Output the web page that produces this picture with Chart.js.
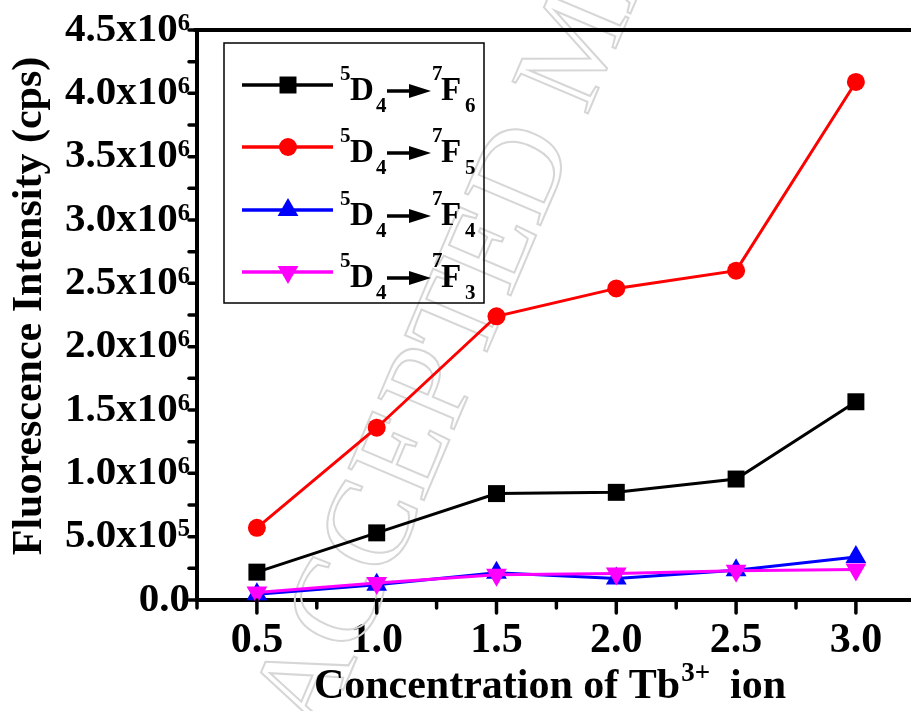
<!DOCTYPE html>
<html><head><meta charset="utf-8">
<script src="https://cdn.jsdelivr.net/npm/chart.js@4.4.0/dist/chart.umd.min.js"></script>
<style>html,body{margin:0;padding:0;overflow:hidden;background:#fff}canvas{display:block}</style>
</head><body><canvas id="c" width="911" height="711" style="width:911px;height:711px"></canvas>
<script>
const FF = '"Liberation Serif","Times New Roman",serif';
const concentrations = [0.5, 1.0, 1.5, 2.0, 2.5, 3.0];
const f6 = [0.22e6, 0.53e6, 0.84e6, 0.85e6, 0.955e6, 1.565e6];
const f5 = [0.57e6, 1.36e6, 2.24e6, 2.46e6, 2.60e6, 4.09e6];
const f4 = [0.045e6, 0.12e6, 0.215e6, 0.17e6, 0.235e6, 0.34e6];
const f3 = [0.06e6, 0.135e6, 0.20e6, 0.21e6, 0.23e6, 0.24e6];
const yTickLabels = ['0.0','5.0x10⁵','1.0x10⁶','1.5x10⁶','2.0x10⁶','2.5x10⁶','3.0x10⁶','3.5x10⁶','4.0x10⁶','4.5x10⁶'];
const xTickLabels = ['0.5','1.0','1.5','2.0','2.5','3.0'];
const seriesLower = ['6','5','4','3'];
const seriesColors = ['#000000','#ff0000','#0000ff','#ff00ff'];
const seriesStyles = ['rect','circle','triangle','triangle'];
const seriesRot = [0,0,0,180];
const seriesRadius = [12,9,12,12];
const seriesData = [f6,f5,f4,f3];

function pts(arr){ return concentrations.map((c,i)=>({x:c, y:arr[i]})); }

const datasets = seriesData.map((d,i)=>({
  label: '5D4-7F'+seriesLower[i],
  data: pts(d),
  borderColor: seriesColors[i],
  backgroundColor: seriesColors[i],
  borderWidth: 3,
  pointStyle: seriesStyles[i],
  rotation: seriesRot[i],
  pointRadius: seriesRadius[i],
  pointBorderWidth: 0,
  pointBackgroundColor: seriesColors[i],
  tension: 0,
  clip: false,
  order: 3 - i
}));

const deco = {
  id: 'deco',
  beforeDatasetsDraw(chart){
    const ctx = chart.ctx;
    ctx.save();
    ctx.translate(322, 740);
    ctx.rotate(-67*Math.PI/180);
    ctx.font = '125px ' + FF;
    ctx.strokeStyle = '#d6d6d6';
    ctx.lineWidth = 2;
    ctx.textBaseline = 'alphabetic';
    ctx.strokeText('ACCEPTED MANUSCRIPT', 0, 0);
    ctx.restore();
  },
  afterDraw(chart){
    const ctx = chart.ctx, ca = chart.chartArea;
    const xs = chart.scales.x, ys = chart.scales.y;
    ctx.save();
    ctx.strokeStyle = '#000';
    ctx.lineCap = 'round';
    ctx.lineWidth = 4;
    ctx.beginPath(); ctx.moveTo(ca.left-2, ca.top); ctx.lineTo(ca.right+10, ca.top); ctx.stroke();
    ctx.lineWidth = 3.5;
    xs.ticks.forEach(t=>{
      const p = xs.getPixelForValue(t.value);
      const major = Math.abs(t.value*2 - Math.round(t.value*2)) < 1e-6;
      ctx.beginPath(); ctx.moveTo(p, ca.bottom); ctx.lineTo(p, ca.bottom + (major?13:8)); ctx.stroke();
    });
    ys.ticks.forEach(t=>{
      const p = ys.getPixelForValue(t.value);
      ctx.beginPath(); ctx.moveTo(ca.left, p); ctx.lineTo(ca.left - 8, p); ctx.stroke();
    });
    ctx.fillStyle = '#000';
    ctx.textBaseline = 'alphabetic';
    const big = 'bold 42px ' + FF, small = 'bold 27px ' + FF;
    ctx.font = big; const w1 = ctx.measureText('Concentration of Tb').width;
    ctx.font = small; const w2 = ctx.measureText('3+').width;
    ctx.font = big; const w3 = ctx.measureText('  ion').width;
    let x0 = 550 - (w1+w2+w3)/2;
    ctx.font = big; ctx.fillText('Concentration of Tb', x0, 698);
    ctx.font = small; ctx.fillText('3+', x0 + w1 + 1, 681);
    ctx.font = big; ctx.fillText('  ion', x0 + w1 + w2, 698);
    ctx.save();
    ctx.translate(30, 306);
    ctx.rotate(-Math.PI/2);
    ctx.font = 'bold 42px ' + FF;
    ctx.textAlign = 'center'; ctx.textBaseline = 'middle';
    ctx.fillText('Fluorescence Intensity (cps)', 0, 0);
    ctx.restore();
    // legend
    ctx.lineWidth = 1.5; ctx.lineCap = 'butt';
    ctx.strokeRect(224, 43, 260, 260);
    const rows = [85, 147, 210, 272];
    rows.forEach((yc, i)=>{
      ctx.strokeStyle = seriesColors[i]; ctx.lineWidth = 3.5;
      ctx.beginPath(); ctx.moveTo(242, yc); ctx.lineTo(333, yc); ctx.stroke();
      ctx.fillStyle = seriesColors[i];
      Chart.helpers.drawPoint(ctx, {pointStyle: seriesStyles[i], radius: seriesRadius[i], rotation: seriesRot[i], borderWidth: 0}, 288, yc);
      ctx.fillStyle = '#000'; ctx.strokeStyle = '#000';
      ctx.textAlign = 'left'; ctx.textBaseline = 'alphabetic';
      ctx.font = 'bold 21px ' + FF; ctx.fillText('5', 340, yc - 5);
      ctx.font = 'bold 33px ' + FF; ctx.fillText('D', 350, yc + 15);
      ctx.font = 'bold 21px ' + FF; ctx.fillText('4', 376, yc + 27);
      ctx.lineWidth = 3.5;
      ctx.beginPath(); ctx.moveTo(387, yc + 6); ctx.lineTo(412, yc + 6); ctx.stroke();
      ctx.beginPath(); ctx.moveTo(409, yc - 1); ctx.lineTo(431, yc + 6); ctx.lineTo(409, yc + 13); ctx.closePath(); ctx.fill();
      ctx.font = 'bold 21px ' + FF; ctx.fillText('7', 432, yc - 5);
      ctx.font = 'bold 33px ' + FF; ctx.fillText('F', 441, yc + 15);
      ctx.font = 'bold 21px ' + FF; ctx.fillText(seriesLower[i], 465, yc + 27);
    });
    ctx.restore();
  }
};

new Chart(document.getElementById('c'), {
  type: 'line',
  data: { datasets },
  options: {
    responsive: false, animation: false, devicePixelRatio: 1,
    layout: { autoPadding: false, padding: { top: 30, right: 0, left: 0, bottom: 0 } },
    plugins: { legend: { display: false }, tooltip: { enabled: false } },
    scales: {
      x: {
        type: 'linear', min: 0.25, max: 3.23,
        afterBuildTicks: s => { const t=[]; for (let k=1;k<=12;k++) t.push({value: k*0.25}); s.ticks = t; },
        afterFit: s => { s.height = 111; },
        ticks: { autoSkip: false, maxRotation: 0, padding: 4, color: '#000',
          font: { family: FF, size: 42, weight: 'bold' },
          callback: (v) => { const k = Math.round(v*2); return (Math.abs(v*2-k)<1e-6 && k>=1 && k<=6) ? xTickLabels[k-1] : ''; } },
        grid: { drawOnChartArea: false, tickLength: 12, tickColor: 'transparent' },
        border: { color: '#000', width: 4 }
      },
      y: {
        type: 'linear', min: 0, max: 4.5e6,
        afterBuildTicks: s => { const t=[]; for (let k=0;k<=18;k++) t.push({value: k*0.25e6}); s.ticks = t; },
        afterFit: s => { s.width = 197; },
        ticks: { autoSkip: false, padding: 0, color: '#000',
          font: { family: FF, size: 41, weight: 'bold' },
          callback: (v) => { const k = Math.round(v/0.25e6); return k%2===0 ? yTickLabels[k/2] : ''; } },
        grid: { drawOnChartArea: false, tickLength: 7, tickColor: 'transparent' },
        border: { color: '#000', width: 4 }
      }
    }
  },
  plugins: [deco]
});
</script>
</body></html>
